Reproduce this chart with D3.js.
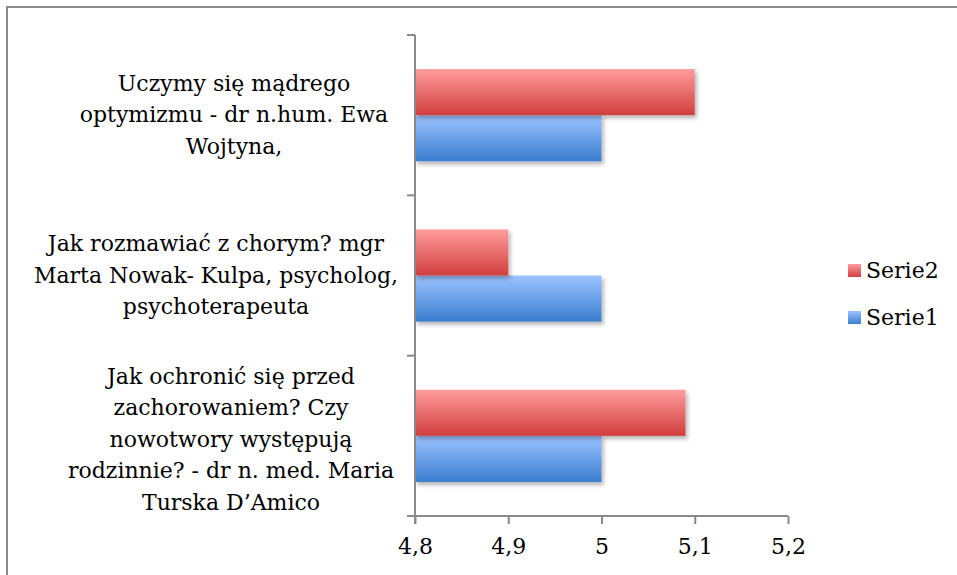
<!DOCTYPE html>
<html><head><meta charset="utf-8">
<script src="https://cdn.jsdelivr.net/npm/d3@7"></script>
<style>body{margin:0;background:#fff}svg{display:block}</style>
</head><body>
<script>
const categories = [
  ["Uczymy się mądrego", "optymizmu - dr n.hum. Ewa", "Wojtyna,"],
  ["Jak rozmawiać z chorym? mgr", "Marta Nowak- Kulpa, psycholog,", "psychoterapeuta"],
  ["Jak ochronić się przed", "zachorowaniem? Czy", "nowotwory występują", "rodzinnie? - dr n. med. Maria", "Turska D’Amico"]
];
const serie1 = [5, 5, 5];
const serie2 = [5.1, 4.9, 5.09];
const seriesNames = ["Serie2", "Serie1"];
const tickValues = [4.8, 4.9, 5.0, 5.1, 5.2];

const W = 957, H = 575;
const FONT = "'DejaVu Serif', serif";
const FS = 22;
const svg = d3.select("body").append("svg").attr("width", W).attr("height", H);
const defs = svg.append("defs");
function grad(id, top, bottom){
  const g = defs.append("linearGradient").attr("id", id).attr("x1",0).attr("y1",0).attr("x2",0).attr("y2",1);
  g.append("stop").attr("offset","0%").attr("stop-color",top);
  g.append("stop").attr("offset","100%").attr("stop-color",bottom);
}
grad("gRed", "#ff9c9c", "#d03e3e");
grad("gBlue", "#9cc3ff", "#3a7dcf");
const f = defs.append("filter").attr("id","sh").attr("x","-5%").attr("y","-10%").attr("width","115%").attr("height","130%");
f.append("feDropShadow").attr("dx",2).attr("dy",3).attr("stdDeviation",2).attr("flood-color","#000").attr("flood-opacity",0.3);
const fl = defs.append("filter").attr("id","shl").attr("x","-200%").attr("y","-5%").attr("width","500%").attr("height","110%");
fl.append("feDropShadow").attr("dx",1.5).attr("dy",1).attr("stdDeviation",1).attr("flood-color","#000").attr("flood-opacity",0.25);

// outer border (left & top visible)
svg.append("rect").attr("x",7).attr("y",7).attr("width",W+20).attr("height",H+20)
  .attr("fill","none").attr("stroke","#8c8c8c").attr("stroke-width",2);

const x = d3.scaleLinear().domain([4.8, 5.2]).range([415, 788]);
const y = d3.scaleBand().domain(d3.range(categories.length)).range([35, 516]).paddingInner(0.425).paddingOuter(0.2125);
const ySub = d3.scaleBand().domain([0,1]).range([0, y.bandwidth()]);

// gridlines
svg.append("g").selectAll("line").data(tickValues.slice(1)).join("line")
  .attr("x1", d=>x(d)).attr("x2", d=>x(d)).attr("y1", 35).attr("y2", 516)
  .attr("stroke","#8a8a8a").attr("stroke-width",2).attr("filter","url(#shl)");

// bars
const groups = svg.append("g").selectAll("g").data(categories).join("g")
  .attr("transform",(d,i)=>`translate(0,${y(i)})`);
groups.append("rect").attr("x", x(4.8)).attr("y", ySub(1)).attr("height", ySub.bandwidth())
  .attr("width",(d,i)=>x(serie1[i]) - x(4.8)).attr("fill","url(#gBlue)").attr("filter","url(#sh)");
groups.append("rect").attr("x", x(4.8)).attr("y", ySub(0)).attr("height", ySub.bandwidth())
  .attr("width",(d,i)=>x(serie2[i]) - x(4.8)).attr("fill","url(#gRed)").attr("filter","url(#sh)");

// axes
const xAxis = svg.append("g").attr("transform","translate(0,516)")
  .call(d3.axisBottom(x).tickValues(tickValues).tickSize(8).tickPadding(14).tickFormat(d=>String(+d.toFixed(1)).replace(".",",")));
xAxis.select(".domain").remove();
xAxis.append("line").attr("x1",407).attr("x2",x(5.2)).attr("y1",0).attr("y2",0).attr("stroke","#8a8a8a").attr("stroke-width",2);
xAxis.selectAll(".tick line").attr("stroke","#8a8a8a").attr("stroke-width",2);
xAxis.selectAll("text").attr("font-family",FONT).attr("font-size",FS).attr("fill","#000");

svg.append("line").attr("x1",415).attr("x2",415).attr("y1",35).attr("y2",524).attr("stroke","#8a8a8a").attr("stroke-width",2);
const catTicks = [35].concat(d3.range(categories.length).map(i=>y(i)+y.bandwidth()+y.step()*y.paddingInner()/2));
catTicks[catTicks.length-1] = 516;
svg.append("g").selectAll("line").data(catTicks).join("line")
  .attr("x1",407).attr("x2",415).attr("y1",d=>d).attr("y2",d=>d).attr("stroke","#8a8a8a").attr("stroke-width",2);

// category labels
const lh = 31.5;
const labCx = [234, 216, 231];
svg.append("g").selectAll("text").data(categories).join("text")
  .attr("font-family",FONT).attr("font-size",FS).attr("fill","#000").attr("text-anchor","middle")
  .each(function(lines,i){
    const cy = y(i) + y.bandwidth()/2 + (i===2?4:0);
    const t = d3.select(this);
    lines.forEach((ln,k)=>{
      t.append("tspan").attr("x", labCx[i]).attr("y", cy + (k - (lines.length-1)/2)*lh + 7).text(ln);
    });
  });

// legend
const leg = svg.append("g");
seriesNames.forEach((s,k)=>{
  const ly = 271 + k*47;
  leg.append("rect").attr("x",848).attr("y",ly-7).attr("width",13).attr("height",13)
    .attr("fill", k===0 ? "url(#gRed)" : "url(#gBlue)");
  leg.append("text").attr("x",866).attr("y",ly+7).attr("font-family",FONT).attr("font-size",FS).text(s);
});
</script>
</body></html>
